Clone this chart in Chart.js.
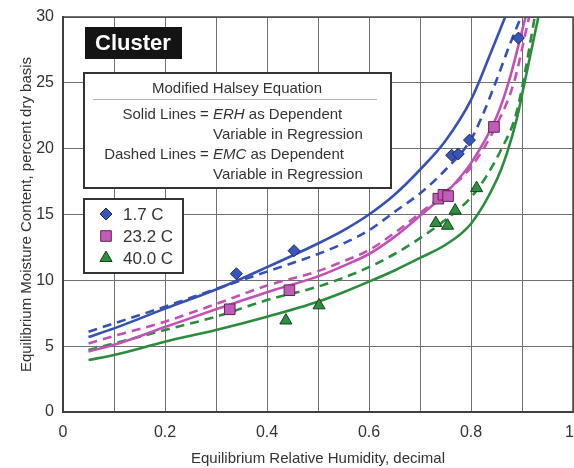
<!DOCTYPE html>
<html>
<head>
<meta charset="utf-8">
<script src="https://cdn.jsdelivr.net/npm/chart.js@4/dist/chart.umd.min.js"></script>
<style>
  html, body { margin: 0; padding: 0; background: #fff; }
  #wrap { width: 574px; height: 468px; }
</style>
</head>
<body>
<div id="wrap"><canvas id="emcChart" width="574" height="468"></canvas></div>
<script>
// measured points
var tempLabels = ['1.7 C', '23.2 C', '40.0 C'];
var diamondX = [0.34, 0.453, 0.762, 0.775, 0.797, 0.893];
var diamondY = [10.5, 12.25, 19.5, 19.6, 20.65, 28.4];
var squareX = [0.327, 0.444, 0.736, 0.746, 0.755, 0.845];
var squareY = [7.8, 9.25, 16.2, 16.5, 16.4, 21.65];
var triangleX = [0.437, 0.502, 0.731, 0.754, 0.769, 0.811];
var triangleY = [6.95, 8.1, 14.35, 14.15, 15.3, 17.0];

// fitted curves (solid = ERH dependent, dashed = EMC dependent)
var blueSolidX = [0.05, 0.1, 0.2, 0.3, 0.4, 0.5, 0.55, 0.6, 0.65, 0.7, 0.75, 0.8, 0.84, 0.867];
var blueSolidY = [5.7, 6.35, 7.85, 9.3, 11.0, 12.8, 13.8, 15.0, 16.5, 18.4, 20.6, 23.7, 27.4, 30];
var blueDashX = [0.05, 0.1, 0.2, 0.3, 0.4, 0.5, 0.55, 0.6, 0.65, 0.7, 0.75, 0.8, 0.82, 0.85, 0.875, 0.898];
var blueDashY = [6.1, 6.73, 8.0, 9.35, 10.66, 12.0, 12.8, 13.8, 15.2, 16.6, 18.4, 20.7, 22.3, 25.2, 27.8, 30];
var pinkSolidX = [0.05, 0.1, 0.2, 0.3, 0.4, 0.5, 0.55, 0.6, 0.65, 0.7, 0.75, 0.8, 0.85, 0.875, 0.907];
var pinkSolidY = [4.6, 5.1, 6.45, 7.8, 9.1, 10.3, 11.1, 12.0, 13.3, 14.9, 16.6, 18.9, 22.4, 25.2, 30];
var pinkDashX = [0.05, 0.1, 0.2, 0.3, 0.4, 0.5, 0.55, 0.6, 0.65, 0.7, 0.75, 0.8, 0.85, 0.884, 0.914];
var pinkDashY = [5.2, 5.77, 6.86, 8.2, 9.6, 10.7, 11.45, 12.3, 13.6, 15.1, 16.7, 18.6, 21.8, 25.0, 30];
var greenSolidX = [0.05, 0.1, 0.2, 0.3, 0.4, 0.5, 0.55, 0.6, 0.65, 0.7, 0.75, 0.8, 0.85, 0.87, 0.89, 0.905, 0.932];
var greenSolidY = [3.95, 4.33, 5.34, 6.23, 7.24, 8.38, 9.1, 9.9, 10.75, 11.7, 12.7, 14.3, 17.6, 19.6, 22.3, 25.0, 30];
var greenDashX = [0.05, 0.1, 0.2, 0.3, 0.4, 0.5, 0.55, 0.6, 0.65, 0.7, 0.75, 0.8, 0.83, 0.86, 0.886, 0.9, 0.925];
var greenDashY = [4.7, 5.2, 6.23, 7.24, 8.5, 9.52, 10.2, 11.0, 12.0, 13.2, 14.6, 16.3, 17.9, 20.0, 22.3, 24.6, 30];

var xTicks = [0, 0.2, 0.4, 0.6, 0.8, 1];

var BLUE = '#3651b3';
var PINK = '#c152b5';
var GREEN = '#2b8c3d';

function pts(xs, ys) {
    return xs.map(function (x, i) { return { x: x, y: ys[i] }; });
}

function curve(xs, ys, color, dashed) {
    return {
        type: 'line',
        data: pts(xs, ys),
        borderColor: color,
        borderWidth: 2.6,
        borderDash: dashed ? [9, 6] : [],
        pointRadius: 0,
        fill: false,
        cubicInterpolationMode: 'monotone',
        order: 2
    };
}

function markers(xs, ys, fillColor, edge, style, r) {
    return {
        type: 'scatter',
        data: pts(xs, ys),
        backgroundColor: fillColor,
        borderColor: edge,
        borderWidth: 1,
        pointStyle: style,
        pointRadius: r,
        pointHoverRadius: r,
        order: 1
    };
}

var FONT = "'Liberation Sans', Arial, sans-serif";

function noPadding() {
    return { left: 0, top: 0, right: 0, bottom: 0 };
}

// boxes drawn on top of the grid
var boxesPlugin = {
    id: 'boxes',
    afterDraw: function (chart) {
        var ctx = chart.ctx;
        ctx.save();

        // last x tick kept inside the canvas
        var last = xTicks[xTicks.length - 1];
        ctx.fillStyle = '#333';
        ctx.font = '16px ' + FONT;
        ctx.textAlign = 'right';
        ctx.textBaseline = 'middle';
        ctx.fillText(String(last), chart.width, 433);

        // Cluster tag
        ctx.fillStyle = '#141414';
        ctx.fillRect(85, 27, 97, 32);
        ctx.fillStyle = '#fff';
        ctx.font = 'bold 22px ' + FONT;
        ctx.textAlign = 'center';
        ctx.fillText('Cluster', 133, 44);

        // equation box
        ctx.fillStyle = '#fff';
        ctx.fillRect(84, 73, 307, 115);
        ctx.strokeStyle = '#333';
        ctx.lineWidth = 2;
        ctx.strokeRect(84, 73, 307, 115);
        ctx.fillStyle = '#333';
        ctx.font = '15px ' + FONT;
        ctx.fillText('Modified Halsey Equation', 237, 89);
        ctx.strokeStyle = '#b5b5b5';
        ctx.lineWidth = 1;
        ctx.beginPath();
        ctx.moveTo(93, 99.5);
        ctx.lineTo(377, 99.5);
        ctx.stroke();

        var ax = 213;
        ctx.textAlign = 'right';
        ctx.fillText('Solid Lines = ', ax, 115);
        ctx.fillText('Dashed Lines = ', ax, 155);
        ctx.textAlign = 'left';
        ctx.font = 'italic 15px ' + FONT;
        ctx.fillText('ERH', ax, 115);
        var w1 = ctx.measureText('ERH').width;
        ctx.fillText('EMC', ax, 155);
        var w2 = ctx.measureText('EMC').width;
        ctx.font = '15px ' + FONT;
        ctx.fillText(' as Dependent', ax + w1, 115);
        ctx.fillText(' as Dependent', ax + w2, 155);
        ctx.fillText('Variable in Regression', ax, 135);
        ctx.fillText('Variable in Regression', ax, 175);

        // temperature legend
        ctx.fillStyle = '#fff';
        ctx.fillRect(84, 199, 99, 74);
        ctx.strokeStyle = '#333';
        ctx.lineWidth = 2;
        ctx.strokeRect(84, 199, 99, 74);
        var marks = [chart.data.datasets[6], chart.data.datasets[7], chart.data.datasets[8]];
        for (var i = 0; i < marks.length; i++) {
            var ds = marks[i];
            var yy = 214 + i * 22;
            ctx.fillStyle = ds.backgroundColor;
            ctx.strokeStyle = ds.borderColor;
            ctx.lineWidth = 1;
            Chart.helpers.drawPoint(ctx, { pointStyle: ds.pointStyle, radius: ds.pointRadius, rotation: 0, borderWidth: 1 }, 106, yy);
            ctx.fillStyle = '#333';
            ctx.font = '17px ' + FONT;
            ctx.textAlign = 'left';
            ctx.fillText(tempLabels[i], 123, yy + 1);
        }

        // plot frame
        var a = chart.chartArea;
        ctx.strokeStyle = '#444';
        ctx.lineWidth = 1.5;
        ctx.strokeRect(a.left, a.top, a.right - a.left, a.bottom - a.top);
        ctx.restore();
    }
};

var ctx = document.getElementById('emcChart').getContext('2d');
var emcChart = new Chart(ctx, {
    data: {
        datasets: [
            curve(blueSolidX, blueSolidY, BLUE, false),
            curve(blueDashX, blueDashY, BLUE, true),
            curve(pinkSolidX, pinkSolidY, PINK, false),
            curve(pinkDashX, pinkDashY, PINK, true),
            curve(greenSolidX, greenSolidY, GREEN, false),
            curve(greenDashX, greenDashY, GREEN, true),
            markers(diamondX, diamondY, '#3a55b8', '#1c2760', 'rectRot', 6),
            markers(squareX, squareY, '#c35bb8', '#5e2456', 'rect', 7.5),
            markers(triangleX, triangleY, '#2f8f40', '#163f1e', 'triangle', 7)
        ]
    },
    options: {
        responsive: false,
        animation: false,
        clip: true,
        layout: { autoPadding: false, padding: { top: 17, right: 1, left: 0, bottom: 0 } },
        plugins: {
            legend: { display: false },
            tooltip: { enabled: false }
        },
        scales: {
            x: {
                type: 'linear',
                min: 0,
                max: 1,
                afterFit: function (s) {
                    s.height = 56;
                    s.paddingLeft = 0;
                    s.paddingRight = 0;
                    s.getPadding = noPadding;
                },
                ticks: {
                    stepSize: 0.1,
                    padding: 11,
                    color: '#333',
                    font: { family: FONT, size: 16 },
                    autoSkip: false,
                    maxRotation: 0,
                    callback: function (v) {
                        var r = Math.round(v * 10) / 10;
                        if (r === xTicks[xTicks.length - 1]) return '';
                        return xTicks.indexOf(r) >= 0 ? String(r) : '';
                    }
                },
                grid: { color: '#707070', lineWidth: 1, drawTicks: false },
                border: { color: '#333', width: 2 },
                title: {
                    display: true,
                    text: 'Equilibrium Relative Humidity, decimal',
                    color: '#333',
                    font: { family: FONT, size: 15 },
                    padding: { top: 0, bottom: 0 }
                }
            },
            y: {
                min: 0,
                max: 30,
                afterFit: function (s) {
                    s.width = 63;
                    s.paddingTop = 0;
                    s.paddingBottom = 0;
                    s.getPadding = noPadding;
                },
                ticks: {
                    stepSize: 5,
                    padding: 9,
                    color: '#333',
                    font: { family: FONT, size: 16 }
                },
                grid: { color: '#707070', lineWidth: 1, drawTicks: false },
                border: { color: '#333', width: 2 },
                title: {
                    display: true,
                    text: 'Equilibrium Moisture Content, percent dry basis',
                    color: '#333',
                    font: { family: FONT, size: 15 },
                    padding: { top: 18, bottom: 0 }
                }
            }
        }
    },
    plugins: [boxesPlugin]
});
</script>
</body>
</html>
